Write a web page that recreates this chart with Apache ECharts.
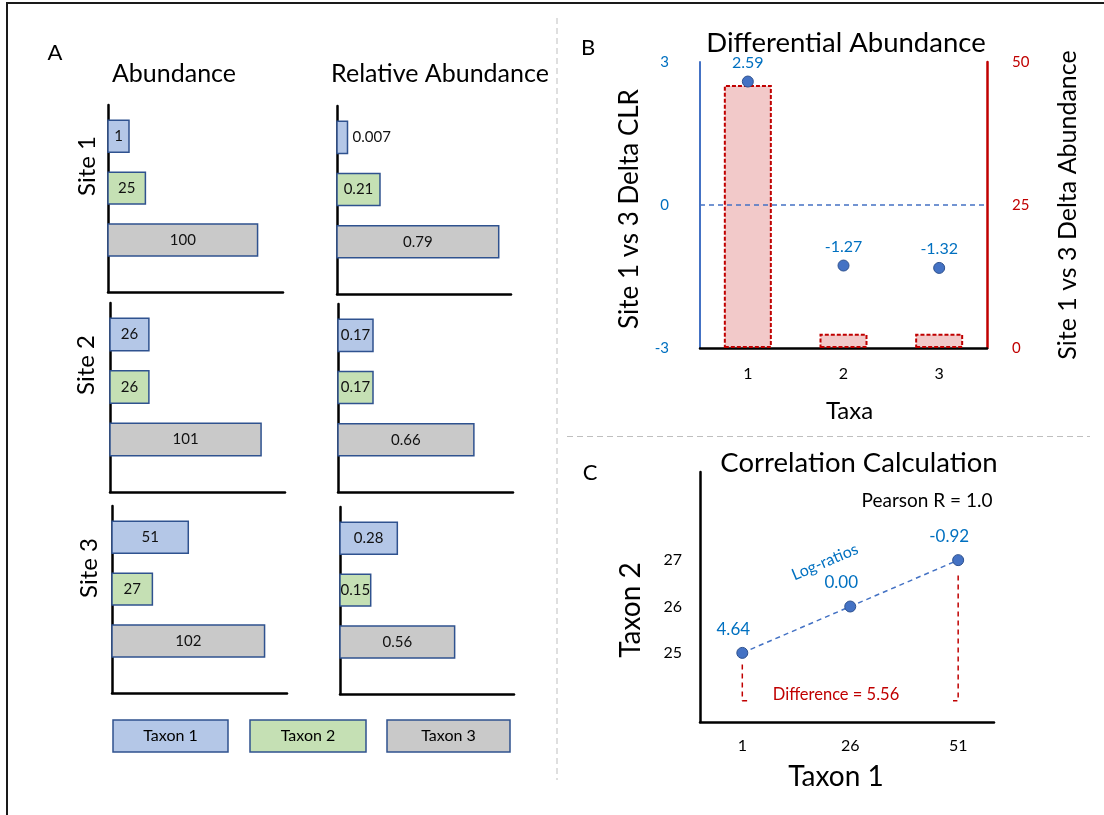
<!DOCTYPE html>
<html><head><meta charset="utf-8">
<script src="https://cdn.jsdelivr.net/npm/echarts@6/dist/echarts.min.js"></script>
<style>html,body{margin:0;padding:0;background:#fff}#c{width:1104px;height:815px}</style>
</head><body><div id="c"></div>
<script>
// ---------- data ----------
const taxa = ['Taxon 1', 'Taxon 2', 'Taxon 3'];
const sites = ['Site 1', 'Site 2', 'Site 3'];
const abundance = [[1, 25, 100], [26, 26, 101], [51, 27, 102]];
const relAbundance = [[0.007, 0.21, 0.79], [0.17, 0.17, 0.66], [0.28, 0.15, 0.56]];
const diffTaxa = ['1', '2', '3'];
const deltaCLR = [2.59, -1.27, -1.32];
const deltaAbundance = [46, 2.5, 2.5];
const corrTaxon1 = [1, 26, 51];
const corrTaxon2 = [25, 26, 27];
const logRatios = ['4.64', '0.00', '-0.92'];
const taxon1Ticks = [1, 26, 51];
const taxon2Ticks = [25, 26, 27];

// ---------- style ----------
const FONT = 'Lato';
const FILLS = ['#B4C7E7', '#C5E0B4', '#C9C9C9'];
const OUTLINE = '#2F528F';
const BLUE_TXT = '#0070C0';
const RED = '#C00000';
const BAR_THICK = 0.615;

const aGrids = [
  {left: 108, top: 105, width: 175, height: 187},
  {left: 337, top: 106, width: 174, height: 188},
  {left: 110, top: 303, width: 175, height: 189},
  {left: 338, top: 304, width: 175, height: 188},
  {left: 112, top: 506, width: 175, height: 187},
  {left: 340, top: 507, width: 174, height: 187}
];
const grids = aGrids.concat([
  {left: 700, top: 62, width: 287, height: 286},
  {left: 700, top: 472, width: 294, height: 250}
]);

const blackLine = {show: true, onZero: false, lineStyle: {color: '#000', width: 2.5}};
const xAxes = [], yAxes = [], series = [];

function makeBarRenderer(minLen) {
  return function (params, api) {
    const v = api.value(0), t = api.value(1);
    const p0 = api.coord([0, t]);
    const p1 = api.coord([v, t]);
    const h = Math.abs(api.size([0, BAR_THICK])[1]);
    const w = Math.max(p1[0] - p0[0], minLen);
    const inside = w >= 16;
    return {
      type: 'group',
      children: [
        {type: 'rect', shape: {x: p0[0], y: p0[1] - h / 2, width: w, height: h},
          style: {fill: FILLS[t - 1], stroke: OUTLINE, lineWidth: 1.5}},
        {type: 'text', style: {text: String(v), x: inside ? p0[0] + w / 2 : p0[0] + w + 5, y: p0[1],
          align: inside ? 'center' : 'left', verticalAlign: 'middle', fill: '#111', font: '15px ' + FONT}}
      ]
    };
  };
}

for (let s = 0; s < 3; s++) {
  for (let k = 0; k < 2; k++) {
    const gi = s * 2 + k;
    xAxes.push({gridIndex: gi, type: 'value', min: 0, max: k ? 0.85 : 117,
      axisLine: blackLine, axisTick: {show: false}, axisLabel: {show: false}, splitLine: {show: false}});
    yAxes.push({gridIndex: gi, type: 'value', min: 0.4, max: 4, inverse: true,
      axisLine: blackLine, axisTick: {show: false}, axisLabel: {show: false}, splitLine: {show: false}});
    const vals = k ? relAbundance[s] : abundance[s];
    series.push({
      type: 'custom', name: sites[s] + (k ? ' relative' : ' abundance'),
      xAxisIndex: gi, yAxisIndex: gi,
      renderItem: makeBarRenderer(k ? 10.5 : 21),
      encode: {x: 0, y: 1},
      data: vals.map((v, j) => [v, j + 1, taxa[j]])
    });
  }
}

// Panel B
xAxes.push({gridIndex: 6, type: 'category', data: diffTaxa,
  axisLine: blackLine, axisTick: {show: false},
  axisLabel: {fontSize: 16, color: '#000', margin: 18, fontFamily: FONT},
  name: 'Taxa', nameLocation: 'middle', nameGap: 51,
  nameTextStyle: {fontSize: 24, color: '#000', fontFamily: FONT, padding: [0, 0, 0, 12]}});
yAxes.push({gridIndex: 6, type: 'value', min: -3, max: 3, interval: 3, position: 'left',
  axisLine: {show: true, onZero: false, lineStyle: {color: '#4472C4', width: 2}},
  axisTick: {show: false}, splitLine: {show: false},
  axisLabel: {color: BLUE_TXT, fontSize: 15, margin: 31, fontFamily: FONT},
  name: 'Site 1 vs 3 Delta CLR', nameLocation: 'middle', nameRotate: 90, nameGap: 57,
  nameTextStyle: {fontSize: 26, color: '#000', fontFamily: FONT, padding: [0, 8, 0, 0]}});
yAxes.push({gridIndex: 6, type: 'value', min: 0, max: 50, interval: 25, position: 'right',
  axisLine: {show: true, onZero: false, lineStyle: {color: RED, width: 2.5}},
  axisTick: {show: false}, splitLine: {show: false},
  axisLabel: {color: RED, fontSize: 15, margin: 25, fontFamily: FONT},
  name: 'Site 1 vs 3 Delta Abundance', nameLocation: 'middle', nameRotate: 90, nameGap: 68,
  nameTextStyle: {fontSize: 25, color: '#000', fontFamily: FONT}});

series.push({
  type: 'bar', name: 'Delta Abundance', xAxisIndex: 6, yAxisIndex: 7, barWidth: 48,
  data: deltaAbundance,
  itemStyle: {color: '#F2C9C9', borderColor: RED, borderWidth: 2, borderType: [4, 2]},
  z: 2
});
series.push({
  type: 'scatter', name: 'Delta CLR', xAxisIndex: 6, yAxisIndex: 6, symbolSize: 11,
  data: deltaCLR,
  itemStyle: {color: '#4472C4', borderColor: OUTLINE, borderWidth: 1, opacity: 1},
  label: {show: true, position: 'top', distance: 5, color: BLUE_TXT, fontSize: 16, fontFamily: FONT,
    formatter: p => p.value.toFixed(2)},
  markLine: {silent: true, symbol: 'none', label: {show: false},
    lineStyle: {color: '#4472C4', type: [5, 4], width: 1.5, opacity: 1},
    emphasis: {disabled: true},
    data: [{yAxis: 0, lineStyle: {color: '#4472C4', type: [5, 4], width: 1.5}}]},
  z: 5
});

// Panel C
xAxes.push({gridIndex: 7, type: 'value', min: -8.8, max: 59.3,
  axisLine: blackLine, axisTick: {show: false}, splitLine: {show: false},
  axisLabel: {customValues: taxon1Ticks, fontSize: 16, color: '#000', margin: 16, fontFamily: FONT},
  name: 'Taxon 1', nameLocation: 'middle', nameGap: 41,
  nameTextStyle: {fontSize: 28, color: '#000', fontFamily: FONT, padding: [0, 22, 0, 0]}});
yAxes.push({gridIndex: 7, type: 'value', min: 23.51, max: 28.9,
  axisLine: blackLine, axisTick: {show: false}, splitLine: {show: false},
  axisLabel: {customValues: taxon2Ticks, fontSize: 16, color: '#000', margin: 18, fontFamily: FONT},
  name: 'Taxon 2', nameLocation: 'middle', nameRotate: 90, nameGap: 55,
  nameTextStyle: {fontSize: 28, color: '#000', fontFamily: FONT, padding: [0, 26, 0, 0]}});

series.push({
  type: 'line', name: 'Log-ratios', xAxisIndex: 7, yAxisIndex: 8,
  data: corrTaxon1.map((x, i) => [x, corrTaxon2[i]]),
  symbol: 'circle', symbolSize: 11,
  itemStyle: {color: '#4472C4', borderColor: OUTLINE, borderWidth: 1, opacity: 1},
  lineStyle: {color: '#4472C4', type: [5, 4], width: 1.5},
  label: {show: true, position: 'top', distance: 9, offset: [-9, 0], color: BLUE_TXT, fontSize: 17,
    fontFamily: FONT, formatter: p => logRatios[p.dataIndex]},
  z: 5
});
const bracketBase = 23.97;
const bracketFoot = 1.2;
const redDash = {color: RED, type: [5, 4], width: 1.5};
series.push({
  type: 'line', name: 'Difference left', xAxisIndex: 7, yAxisIndex: 8, showSymbol: false, silent: true,
  data: [[corrTaxon1[0], corrTaxon2[0] - 0.25], [corrTaxon1[0], bracketBase], [corrTaxon1[0] + bracketFoot, bracketBase]],
  lineStyle: redDash
});
series.push({
  type: 'line', name: 'Difference right', xAxisIndex: 7, yAxisIndex: 8, showSymbol: false, silent: true,
  data: [[corrTaxon1[2], corrTaxon2[2] - 0.33], [corrTaxon1[2], bracketBase], [corrTaxon1[2] - bracketFoot, bracketBase]],
  lineStyle: redDash
});

// ---------- free text & decorations ----------
function txt(text, x, y, size, opts) {
  opts = opts || {};
  return {type: 'text', x: x, y: y, rotation: opts.rotation || 0, z: 10,
    style: {text: text, font: size + 'px ' + FONT, fill: opts.color || '#000',
      align: 'center', verticalAlign: 'middle', textAlign: 'center', textVerticalAlign: 'middle'}};
}
const elements = [
  {type: 'polyline', shape: {points: [[7, 815], [7, 3], [1104, 3]]}, style: {stroke: '#1a1a1a', lineWidth: 2, fill: null}},
  {type: 'line', shape: {x1: 557, y1: 18, x2: 557, y2: 780}, style: {stroke: '#BFBFBF', lineWidth: 1, lineDash: [6, 4]}},
  {type: 'line', shape: {x1: 567, y1: 436.5, x2: 1090, y2: 436.5}, style: {stroke: '#BFBFBF', lineWidth: 1, lineDash: [6, 4]}},
  txt('A', 55, 53, 22),
  txt('Abundance', 174, 74, 25),
  txt('Relative Abundance', 440, 74, 25),
  txt(sites[0], 87, 166, 24, {rotation: Math.PI / 2}),
  txt(sites[1], 86, 365, 24, {rotation: Math.PI / 2}),
  txt(sites[2], 89, 568, 24, {rotation: Math.PI / 2}),
  txt('B', 588, 48, 22),
  txt('Differential Abundance', 846, 43, 27.5),
  txt('C', 590, 473, 22),
  txt('Correlation Calculation', 859, 463, 27.5),
  txt('Pearson R = 1.0', 927, 501, 19),
  txt('Log-ratios', 825, 562, 16, {rotation: 0.40, color: BLUE_TXT}),
  txt('Difference = 5.56', 836, 695, 16.5, {color: RED})
];
const legendBoxes = [[113, 720, 115, 32], [250, 720, 116, 32], [387, 720, 123, 32]];
taxa.forEach((t, i) => {
  const b = legendBoxes[i];
  elements.push({type: 'rect', shape: {x: b[0], y: b[1], width: b[2], height: b[3]},
    style: {fill: FILLS[i], stroke: OUTLINE, lineWidth: 1.5}, z: 10});
  elements.push(txt(t, b[0] + b[2] / 2, b[1] + b[3] / 2, 16));
});

const chart = echarts.init(document.getElementById('c'), null, {width: 1104, height: 815});
chart.setOption({
  backgroundColor: '#fff',
  animation: false,
  textStyle: {fontFamily: FONT},
  grid: grids,
  xAxis: xAxes,
  yAxis: yAxes,
  series: series,
  graphic: {elements: elements}
});
</script></body></html>
